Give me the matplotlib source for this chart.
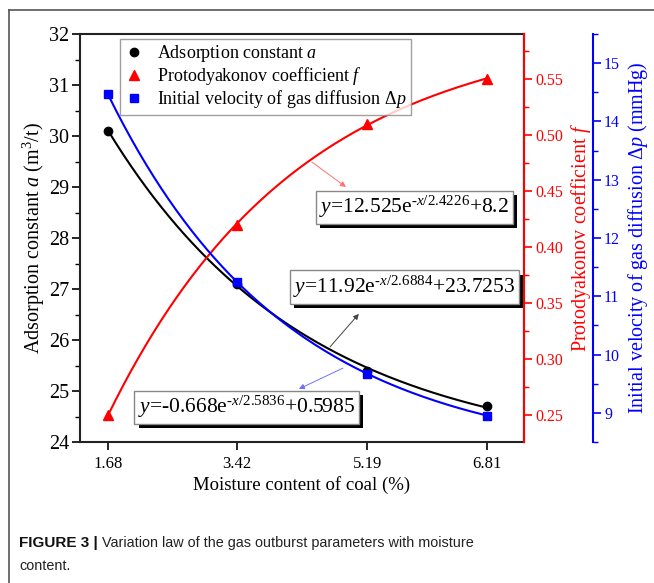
import numpy as np
import matplotlib
matplotlib.use("Agg")
import matplotlib.pyplot as plt
from matplotlib.lines import Line2D
from matplotlib.ticker import MultipleLocator
import matplotlib.patheffects as pe

plt.rcParams["font.family"] = ["Liberation Serif", "DejaVu Serif"]
plt.rcParams["mathtext.fontset"] = "custom"
plt.rcParams["mathtext.rm"] = "Liberation Serif"
plt.rcParams["mathtext.it"] = "Liberation Serif:italic"
plt.rcParams["mathtext.bf"] = "Liberation Serif:bold"

# measured values
moisture = [1.68, 3.42, 5.19, 6.81]
adsorption = [30.1, 27.1, 25.4, 24.7]
protodyakonov = [0.25, 0.42, 0.51, 0.55]
diffusion = [14.47, 11.25, 9.67, 8.95]

# fitted curves y = A*exp(-x/t) + y0
fit_adsorption = (11.92, 2.6884, 23.7253)
fit_protodyakonov = (-0.668, 2.5836, 0.5985)
fit_diffusion = (12.525, 2.4226, 8.2)

eq_labels = [
    r"$y$=12.525e$^{\text{-}x/2.4226}$+8.2",
    r"$y$=11.92e$^{\text{-}x/2.6884}$+23.7253",
    r"$y$=-0.668e$^{\text{-}x/2.5836}$+0.5985",
]

RED = "#ff0000"
BLUE = "#0000ff"
CAP_FONT = "Liberation Sans"
CAP_SIZE = 10.4


def fit_curve(params, xs):
    a, t, y0 = params
    return a * np.exp(-xs / t) + y0


fig = plt.figure(figsize=(6.54, 5.83), dpi=100)
ax = fig.add_axes([80 / 654, 1 - 442 / 583, 444 / 654, 408 / 583])
ax_f = ax.twinx()
ax_p = ax.twinx()
ax_p.spines["right"].set_position(("axes", (593 - 80) / 444))

xs = np.linspace(moisture[0], moisture[-1], 200)

ax.plot(xs, fit_curve(fit_adsorption, xs), color="black", lw=1.5)
ax.plot(moisture, adsorption, "o", color="black", ms=6)
ax_f.plot(xs, fit_curve(fit_protodyakonov, xs), color=RED, lw=1.5)
ax_f.plot(moisture, protodyakonov, "^", color=RED, ms=7)
ax_p.plot(xs, fit_curve(fit_diffusion, xs), color=BLUE, lw=1.5)
ax_p.plot(moisture, diffusion, "s", color=BLUE, ms=6)

ax.set_xlim(1.30, 7.31)
ax.set_ylim(24, 32)
ax_f.set_ylim(0.2259, 0.5902)
ax_p.set_ylim(8.5, 15.5)

ax.set_xticks(moisture)
ax.set_xticklabels([f"{v:.2f}" for v in moisture])
ax.yaxis.set_major_locator(MultipleLocator(1))
ax.yaxis.set_minor_locator(MultipleLocator(0.5))
ax_f.yaxis.set_major_locator(MultipleLocator(0.05))
ax_f.yaxis.set_minor_locator(MultipleLocator(0.025))
ax_f.yaxis.set_major_formatter(lambda v, p: f"{v:.2f}")
ax_p.yaxis.set_major_locator(MultipleLocator(1))
ax_p.yaxis.set_minor_locator(MultipleLocator(0.5))

for a in (ax, ax_f, ax_p):
    a.tick_params(which="major", direction="out", length=6, width=1.2, labelsize=11.5)
    a.tick_params(which="minor", direction="out", length=3.5, width=1.0)
    for s in a.spines.values():
        s.set_linewidth(1.5)
ax.tick_params(axis="y", labelsize=14.5, pad=2)
ax.tick_params(axis="x", labelsize=12, pad=4)
ax_f.tick_params(axis="y", pad=2)
ax_p.tick_params(axis="y", pad=2)

ax.spines["left"].set_color("#222222")
ax.spines["bottom"].set_color("#222222")
ax.spines["top"].set_color("#222222")
ax_f.spines["right"].set_color(RED)
ax_f.tick_params(axis="y", which="both", colors=RED)
ax_p.spines["right"].set_color(BLUE)
ax_p.tick_params(axis="y", which="both", colors=BLUE)
for a in (ax_f, ax_p):
    a.spines["top"].set_visible(False)
    a.spines["left"].set_visible(False)
    a.spines["bottom"].set_visible(False)

ax.set_xlabel("Moisture content of coal (%)", fontsize=13.5, labelpad=3)
ax.set_ylabel(r"Adsorption constant $a$ (m$^3$/t)", fontsize=14.5, labelpad=1)
ax_f.set_ylabel(r"Protodyakonov coefficient $f$", fontsize=14.5, color=RED, labelpad=4)
ax_p.set_ylabel(r"Initial velocity of gas diffusion Δ$p$ (mmHg)", fontsize=14.5,
                color=BLUE, labelpad=4)

handles = [
    Line2D([], [], ls="", marker="o", color="black", ms=6),
    Line2D([], [], ls="", marker="^", color=RED, ms=7),
    Line2D([], [], ls="", marker="s", color=BLUE, ms=6),
]
labels = [
    r"Adsorption constant $a$",
    r"Protodyakonov coefficient $f$",
    r"Initial velocity of gas diffusion Δ$p$",
]
leg = ax_p.legend(handles, labels, loc="upper left", bbox_to_anchor=(0.09, 0.988),
                  fontsize=13, frameon=True, fancybox=False, borderaxespad=0,
                  handletextpad=0.8, labelspacing=0.05, borderpad=0.25,
                  handlelength=1.0)
leg.get_frame().set_edgecolor("#888888")
leg.get_frame().set_linewidth(1.0)

# equation boxes with drop shadow
box_pos = [(0.753, 0.575), (0.730, 0.380), (0.375, 0.085)]
for label, (bx, by) in zip(eq_labels, box_pos):
    t = ax_p.text(bx, by, label, transform=ax_p.transAxes, ha="center", va="center",
                  fontsize=15.5, zorder=10,
                  bbox=dict(boxstyle="square,pad=0.16", fc="white", ec="#888888", lw=1.0))
    t.get_bbox_patch().set_path_effects([
        pe.withSimplePatchShadow(offset=(3, -3), shadow_rgbFace="black", alpha=1.0)])

# pointer arrows
arrows = [
    ((0.5225, 0.686), (0.599, 0.625), "#ff7070"),
    ((0.563, 0.233), (0.628, 0.314), "#444444"),
    ((0.592, 0.181), (0.493, 0.130), "#7070ff"),
]
for start, end, col in arrows:
    ax_p.annotate("", xy=end, xytext=start, xycoords="axes fraction",
                  textcoords="axes fraction",
                  arrowprops=dict(arrowstyle="-|>", color=col, lw=0.7,
                                  mutation_scale=8, shrinkA=0, shrinkB=0))

# page frame lines
fig.add_artist(Line2D([9 / 654, 1], [1 - 10 / 583] * 2, color="#555555", lw=1.2))
fig.add_artist(Line2D([9 / 654] * 2, [0, 1 - 10 / 583], color="#555555", lw=1.2))

# caption
cap = fig.text(19 / 654, 1 - 543 / 583, "FIGURE 3 |", fontsize=CAP_SIZE + 0.6,
               fontweight="bold", family=CAP_FONT, va="center", color="#111111")
fig.canvas.draw()
bb = cap.get_window_extent()
fig.text((bb.x1 + 4) / 654, 1 - 543 / 583,
         "Variation law of the gas outburst parameters with moisture",
         fontsize=CAP_SIZE, family=CAP_FONT, va="center", color="#222222")
fig.text(19 / 654, 1 - 566 / 583, "content.", fontsize=CAP_SIZE, family=CAP_FONT,
         va="center", color="#222222")

fig.savefig("out.png", dpi=100)
